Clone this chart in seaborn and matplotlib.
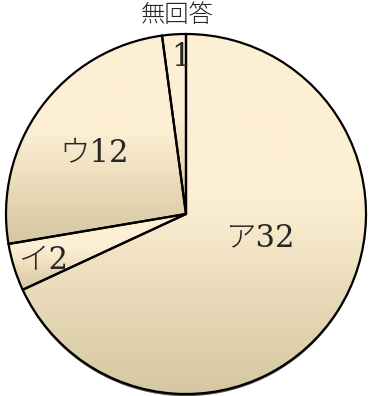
import numpy as np
import seaborn as sns
from matplotlib import pyplot as plt
from matplotlib.colors import LinearSegmentedColormap
from matplotlib.patches import Circle

labels = ["ア", "イ", "ウ", "無回答"]
values = [32, 2, 12, 1]

sns.set_style("white")
plt.rcParams["font.family"] = ["DejaVu Serif", "Noto Sans CJK JP"]

cream = "#fdefd3"
tan = "#d5c7a0"
cmap = LinearSegmentedColormap.from_list("fill", [(0, cream), (0.45, cream), (1, tan)])

fig = plt.figure(figsize=(3.69, 3.96), dpi=100)
ax = fig.add_axes([0, 0, 1, 1])

wedges, _ = ax.pie(values, startangle=90, counterclock=False,
                   wedgeprops=dict(edgecolor="black", linewidth=1.6, facecolor="none"))
for w in wedges:
    w.set_zorder(3)

# soft shadow under the pie
ax.add_patch(Circle((0.0, -0.012), 1.0, facecolor="#555555", edgecolor="none", zorder=0))

# vertical gradient per slice
grad = np.linspace(0, 1, 256).reshape(-1, 1)
for w in wedges:
    ext = w.get_path().get_extents()
    im = ax.imshow(grad, cmap=cmap, extent=[ext.x0, ext.x1, ext.y0, ext.y1],
                   origin="upper", aspect="auto", zorder=1, interpolation="bilinear")
    im.set_clip_path(w.get_path(), ax.transData)

# label positions (data units, pie radius 1)
label_pos = [(0.41, -0.13), (-0.79, -0.26), (-0.51, 0.34), (-0.03, 0.87)]
for lab, v, (x, y) in zip(labels[:3], values[:3], label_pos[:3]):
    ax.text(x, y, f"{lab}{v}", ha="center", va="center", fontsize=22,
            fontweight="light", zorder=5)
ax.text(*label_pos[3], str(values[3]), ha="center", va="center", fontsize=22, zorder=5)
ax.text(-0.05, 1.10, labels[3], ha="center", va="center", fontsize=17.5,
        family=["Noto Sans CJK JP"], fontweight="light", zorder=5)

ax.set_xlim(-186 / 180, 183 / 180)
ax.set_ylim(-182 / 180, 214 / 180)
ax.set_aspect("auto")
ax.axis("off")

fig.savefig("out.png", dpi=100)
